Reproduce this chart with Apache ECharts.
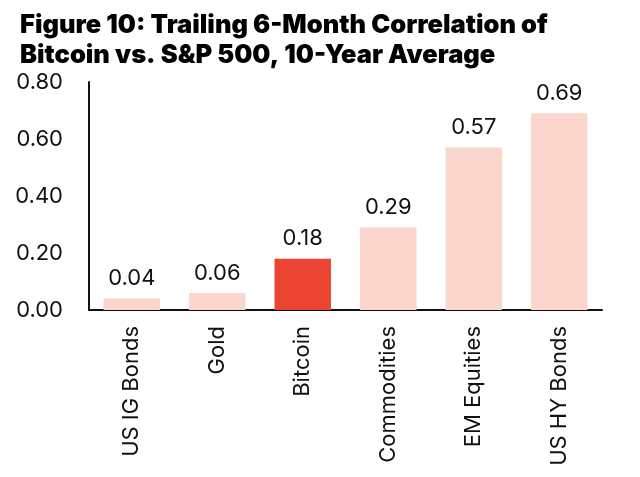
<!DOCTYPE html>
<html>
<head>
<meta charset="utf-8">
<script src="https://cdn.jsdelivr.net/npm/echarts@6/dist/echarts.min.js"></script>
<style>
  html, body { margin: 0; padding: 0; background: #fff; }
  #chart { width: 640px; height: 477px; }
</style>
</head>
<body>
<div id="chart"></div>
<script>
// categories and values
const categories = ['US IG Bonds', 'Gold', 'Bitcoin', 'Commodities', 'EM Equities', 'US HY Bonds']
const correlation = [0.04, 0.06, 0.18, 0.29, 0.57, 0.69]
const highlight = 'Bitcoin'

const LIGHT = '#FBD6CD'
const RED = '#EC4433'
const FONT = 'Inter'

const chart = echarts.init(document.getElementById('chart'))

const option = {
  backgroundColor: '#fff',
  animation: false,
  title: {
    text: 'Figure 10: Trailing 6-Month Correlation of\nBitcoin vs. S&P 500, 10-Year Average',
    left: 15,
    top: 5,
    textStyle: {
      fontFamily: FONT,
      fontWeight: 900,
      fontSize: 25.5,
      lineHeight: 30,
      color: '#000'
    }
  },
  grid: {
    left: 89,
    right: 38,
    top: 82,
    bottom: 167
  },
  xAxis: {
    type: 'category',
    data: categories,
    axisLine: { lineStyle: { color: '#111', width: 2 } },
    axisTick: { show: false },
    axisLabel: {
      rotate: 90,
      margin: 16,
      fontFamily: FONT,
      fontSize: 22,
      color: '#111'
    }
  },
  yAxis: {
    type: 'value',
    min: 0,
    max: 0.8,
    interval: 0.2,
    axisLine: { show: true, lineStyle: { color: '#111', width: 2 } },
    axisTick: { show: false },
    splitLine: { show: false },
    axisLabel: {
      margin: 26,
      fontFamily: FONT,
      fontSize: 22,
      color: '#111',
      formatter: (v) => v.toFixed(2)
    }
  },
  series: [{
    type: 'bar',
    barWidth: '66%',
    data: correlation.map((v, i) => ({
      value: v,
      itemStyle: { color: categories[i] === highlight ? RED : LIGHT }
    })),
    label: {
      show: true,
      position: 'top',
      distance: 9,
      fontFamily: FONT,
      fontSize: 22,
      color: '#111',
      formatter: (p) => p.value.toFixed(2)
    }
  }]
}

chart.setOption(option)
</script>
</body>
</html>
